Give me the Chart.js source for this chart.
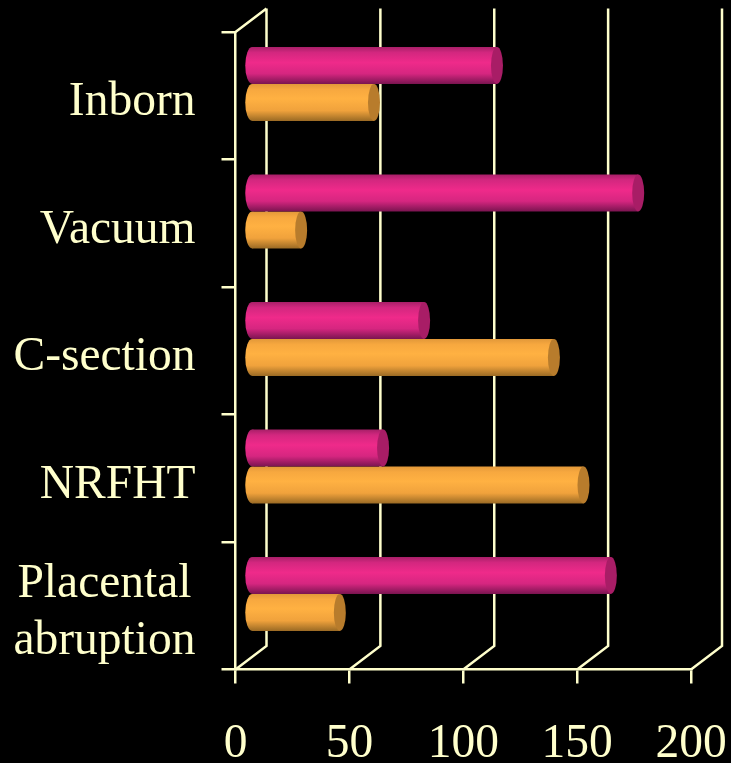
<!DOCTYPE html>
<html>
<head>
<meta charset="utf-8">
<style>
  html, body { margin: 0; padding: 0; background: #000; }
  canvas { display: block; }
</style>
<script src="https://cdn.jsdelivr.net/npm/chart.js@4"></script>
</head>
<body>
<canvas id="barChart" width="731" height="763"></canvas>
<script>
const categories = ['Inborn', 'Vacuum', 'C-section', 'NRFHT', ['Placental\u200a', 'abruption']];
const pinkValues = [108, 170, 76, 58, 158];
const orangeValues = [54, 22, 133, 146, 39];
const xTicks = [0, 50, 100, 150, 200];

const CREAM = '#ffffcc';
const DEPTH_X = 31;
const DEPTH_Y = 23.5;
const BAR_H = 37;

function barFill(chart, index, above, stops) {
    const mid = chart.scales.y.getPixelForValue(index);
    // scales are not laid out yet on the first pass
    if (!isFinite(mid)) return stops[2][1];
    const top = above ? mid - BAR_H : mid;
    const g = chart.ctx.createLinearGradient(0, top, 0, top + BAR_H);
    stops.forEach(s => g.addColorStop(s[0], s[1]));
    return g;
}

const pinkStops = [[0, '#a81f68'], [0.15, '#d3277f'], [0.42, '#ef2a8a'], [0.72, '#d62680'], [1, '#7a1450']];
const orangeStops = [[0, '#e29839'], [0.15, '#f7a83f'], [0.4, '#ffb142'], [0.72, '#f0a23c'], [1, '#9a6a24']];
const capColors = ['#a81d66', '#b87c2c'];

// walls of the fake 3d box, drawn behind the bars
const wallsPlugin = {
    id: 'walls',
    beforeDatasetsDraw(chart) {
        const { ctx, scales: { x, y } } = chart;
        const top = y.top;
        const bottom = y.bottom;
        ctx.save();
        ctx.strokeStyle = CREAM;
        ctx.lineWidth = 2.5;
        ctx.beginPath();
        xTicks.forEach(v => {
            const px = x.getPixelForValue(v);
            ctx.moveTo(px, bottom);
            ctx.lineTo(px + DEPTH_X, bottom - DEPTH_Y);
            ctx.lineTo(px + DEPTH_X, top - DEPTH_Y);
        });
        const left = x.getPixelForValue(0);
        ctx.moveTo(left, top);
        ctx.lineTo(left + DEPTH_X, top - DEPTH_Y);
        ctx.stroke();
        ctx.restore();

        // bars sit half way into the box
        ctx.save();
        ctx.translate(DEPTH_X / 2, -DEPTH_Y / 2);
    },
    afterDatasetDraw(chart, args) {
        const ctx = chart.ctx;
        args.meta.data.forEach(bar => {
            const ry = bar.height / 2;
            // rounded far end
            ctx.fillStyle = bar.options.backgroundColor;
            ctx.beginPath();
            ctx.ellipse(bar.base, bar.y, 7, ry, 0, 0, Math.PI * 2);
            ctx.fill();
            // flat cap on the value end
            ctx.fillStyle = capColors[args.index];
            ctx.beginPath();
            ctx.ellipse(bar.x, bar.y, 6, ry, 0, 0, Math.PI * 2);
            ctx.fill();
        });
    },
    afterDatasetsDraw(chart) {
        chart.ctx.restore();
    }
};

new Chart(document.getElementById('barChart'), {
    type: 'bar',
    plugins: [wallsPlugin],
    data: {
        labels: categories,
        datasets: [
            {
                label: 'Series 1',
                data: pinkValues,
                clip: false,
                backgroundColor: c => barFill(c.chart, c.dataIndex, true, pinkStops)
            },
            {
                label: 'Series 2',
                data: orangeValues,
                clip: false,
                backgroundColor: c => barFill(c.chart, c.dataIndex, false, orangeStops)
            }
        ]
    },
    options: {
        indexAxis: 'y',
        responsive: false,
        animation: false,
        categoryPercentage: 0.58,
        barPercentage: 1,
        layout: { padding: { top: 32, right: 40, left: 0, bottom: 0 } },
        plugins: {
            legend: { display: false },
            tooltip: { enabled: false },
            title: { display: false }
        },
        scales: {
            x: {
                min: 0,
                max: 200,
                afterFit: s => { s.height = 93.5; s.paddingLeft = 0; s.paddingRight = 0; },
                afterBuildTicks: s => { s.ticks = xTicks.map(v => ({ value: v })); },
                border: { color: CREAM, width: 2.5 },
                grid: { drawOnChartArea: false, color: CREAM, lineWidth: 2.5, tickLength: 14 },
                ticks: {
                    color: CREAM,
                    padding: 33,
                    maxRotation: 0,
                    font: { family: '"Liberation Serif"', size: 47.5 }
                }
            },
            y: {
                afterFit: s => { s.width = 235.5; s.paddingTop = 0; s.paddingBottom = 0; },
                border: { color: CREAM, width: 2.5 },
                grid: { drawOnChartArea: false, color: CREAM, lineWidth: 2.5, tickLength: 14 },
                ticks: {
                    color: CREAM,
                    padding: 26,
                    labelOffset: 7,
                    autoSkip: false,
                    font: { family: '"Liberation Serif"', size: 47.5, lineHeight: 1.2 }
                }
            }
        }
    }
});
</script>
</body>
</html>
